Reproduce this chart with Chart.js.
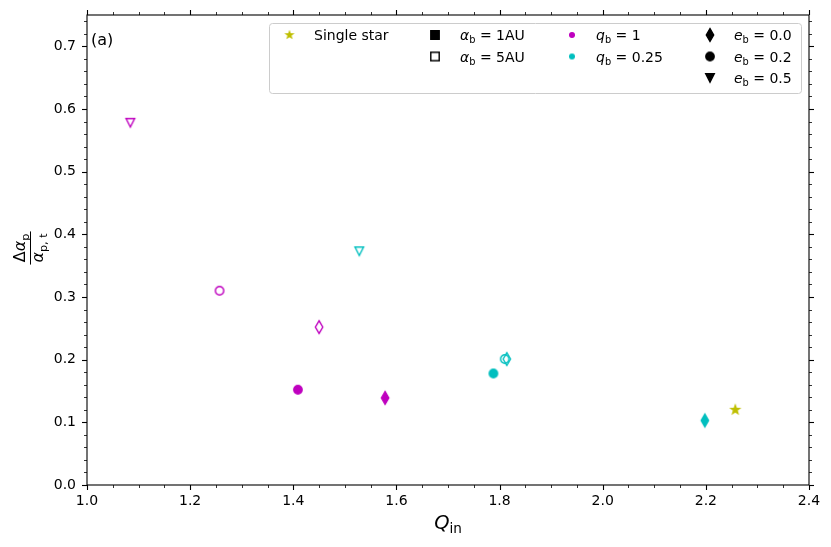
<!DOCTYPE html>
<html lang="en">
<head>
    <meta charset="UTF-8">
    <title>Delta a_p vs Q_in</title>
    <script src="https://cdn.jsdelivr.net/npm/chart.js"></script>
    <style>
        body { margin: 0; background: #fff; }
    </style>
</head>
<body>
    <canvas id="qinChart" width="831" height="547"></canvas>
    <script>
        // tick labels
        const xTicks = [1.0, 1.2, 1.4, 1.6, 1.8, 2.0, 2.2, 2.4];
        const yTicks = [0.0, 0.1, 0.2, 0.3, 0.4, 0.5, 0.6, 0.7];

        // [Q_in, delta a_p / a_p,t]
        const singleStar = [[2.257, 0.120]];
        // q_b = 1
        const q1_1AU_e00 = [[1.578, 0.139]];
        const q1_1AU_e02 = [[1.409, 0.152]];
        const q1_5AU_e00 = [[1.450, 0.252]];
        const q1_5AU_e02 = [[1.257, 0.310]];
        const q1_5AU_e05 = [[1.084, 0.578]];
        // q_b = 0.25
        const q025_1AU_e00 = [[2.198, 0.103]];
        const q025_1AU_e02 = [[1.788, 0.178]];
        const q025_5AU_e00 = [[1.814, 0.201]];
        const q025_5AU_e02 = [[1.810, 0.201]];
        const q025_5AU_e05 = [[1.528, 0.373]];

        const MAG = '#bf00bf', CYA = '#00bfbf', YEL = '#bfbf00';
        const FONT = '"DejaVu Sans", sans-serif';

        // marker images (matplotlib-like shapes)
        function makeMarker(shape, color, filled, scale) {
            scale = scale || 1;
            const c = document.createElement('canvas');
            c.width = 18; c.height = 18;
            const g = c.getContext('2d');
            g.translate(9, 9);
            g.scale(scale, scale);
            g.beginPath();
            if (shape === 'circle') {
                g.arc(0, 0, 4.2, 0, Math.PI * 2);
            } else if (shape === 'tri') {
                g.moveTo(-4.3, -4.2); g.lineTo(4.3, -4.2); g.lineTo(0, 4.3); g.closePath();
            } else if (shape === 'diamond') {
                g.moveTo(0, -6.4); g.lineTo(3.7, 0); g.lineTo(0, 6.4); g.lineTo(-3.7, 0); g.closePath();
            } else if (shape === 'square') {
                g.rect(-4.2, -4.2, 8.4, 8.4);
            } else if (shape === 'star') {
                for (let i = 0; i < 10; i++) {
                    const r = i % 2 ? 1.8 : 4.4;
                    const a = -Math.PI / 2 + i * Math.PI / 5;
                    const px = r * Math.cos(a), py = r * Math.sin(a);
                    if (i === 0) g.moveTo(px, py); else g.lineTo(px, py);
                }
                g.closePath();
            }
            g.lineWidth = 1.4 / scale;
            g.lineJoin = 'miter';
            g.strokeStyle = color;
            if (filled) { g.fillStyle = color; g.fill(); }
            g.stroke();
            return c;
        }

        function ds(label, pts, shape, color, filled) {
            return {
                label: label,
                data: pts.map(p => ({ x: p[0], y: p[1] })),
                pointStyle: makeMarker(shape, color, filled),
                pointRadius: 5,
                pointHoverRadius: 5
            };
        }

        const datasets = [
            ds('single', singleStar, 'star', YEL, true),
            ds('q1 1AU e0', q1_1AU_e00, 'diamond', MAG, true),
            ds('q1 1AU e0.2', q1_1AU_e02, 'circle', MAG, true),
            ds('q1 5AU e0', q1_5AU_e00, 'diamond', MAG, false),
            ds('q1 5AU e0.2', q1_5AU_e02, 'circle', MAG, false),
            ds('q1 5AU e0.5', q1_5AU_e05, 'tri', MAG, false),
            ds('q025 1AU e0', q025_1AU_e00, 'diamond', CYA, true),
            ds('q025 1AU e0.2', q025_1AU_e02, 'circle', CYA, true),
            ds('q025 5AU e0', q025_5AU_e00, 'diamond', CYA, false),
            ds('q025 5AU e0.2', q025_5AU_e02, 'circle', CYA, false),
            ds('q025 5AU e0.5', q025_5AU_e05, 'tri', CYA, false)
        ];

        // draw text with italic / subscript pieces: [text, 'i' | 's' | '']
        function richWidth(ctx, parts, size) {
            let w = 0;
            parts.forEach(p => {
                ctx.font = fontFor(p[1], size);
                w += ctx.measureText(p[0]).width;
            });
            return w;
        }
        function fontFor(kind, size) {
            if (kind === 'i') return 'italic ' + size + 'px ' + FONT;
            if (kind === 's') return (size * 0.7).toFixed(1) + 'px ' + FONT;
            return size + 'px ' + FONT;
        }
        function drawRich(ctx, parts, x, y, size) {
            ctx.textAlign = 'left';
            ctx.textBaseline = 'alphabetic';
            parts.forEach(p => {
                ctx.font = fontFor(p[1], size);
                const dy = p[1] === 's' ? size * 0.22 : 0;
                ctx.fillText(p[0], x, y + dy);
                x += ctx.measureText(p[0]).width;
            });
        }

        // legend layout: 4 columns, 3 rows
        const legendRows = [35, 56.5, 78];
        const legendEntries = [
            { col: 0, row: 0, mk: makeMarker('star', YEL, true, 0.75), text: [['Single star', '']] },
            { col: 1, row: 0, mk: makeMarker('square', '#000', true), text: [['α', 'i'], ['b', 's'], [' = 1AU', '']] },
            { col: 1, row: 1, mk: makeMarker('square', '#000', false), text: [['α', 'i'], ['b', 's'], [' = 5AU', '']] },
            { col: 2, row: 0, mk: makeMarker('circle', MAG, true, 0.55), text: [['q', 'i'], ['b', 's'], [' = 1', '']] },
            { col: 2, row: 1, mk: makeMarker('circle', CYA, true, 0.55), text: [['q', 'i'], ['b', 's'], [' = 0.25', '']] },
            { col: 3, row: 0, mk: makeMarker('diamond', '#000', true), text: [['e', 'i'], ['b', 's'], [' = 0.0', '']] },
            { col: 3, row: 1, mk: makeMarker('circle', '#000', true), text: [['e', 'i'], ['b', 's'], [' = 0.2', '']] },
            { col: 3, row: 2, mk: makeMarker('tri', '#000', true), text: [['e', 'i'], ['b', 's'], [' = 0.5', '']] }
        ];
        const legendMarkX = [289.5, 435, 572, 710];
        const legendTextX = [314, 460, 596, 734];

        const decorPlugin = {
            id: 'decor',
            afterDatasetsDraw(chart) {
                const ctx = chart.ctx;
                ctx.save();
                // legend frame
                const bx = 269.5, by = 23.5, bw = 532, bh = 70;
                ctx.beginPath();
                ctx.roundRect(bx, by, bw, bh, 3);
                ctx.fillStyle = 'rgba(255,255,255,0.8)';
                ctx.fill();
                ctx.strokeStyle = '#cccccc';
                ctx.lineWidth = 1;
                ctx.stroke();
                ctx.fillStyle = '#000';
                legendEntries.forEach(e => {
                    const cy = legendRows[e.row];
                    ctx.drawImage(e.mk, legendMarkX[e.col] - 9, cy - 9);
                    ctx.fillStyle = '#000';
                    drawRich(ctx, e.text, legendTextX[e.col], cy + 5, 14);
                });
                ctx.restore();
            },
            afterDraw(chart) {
                const ctx = chart.ctx;
                const a = chart.chartArea;
                const xs = chart.scales.x, ys = chart.scales.y;
                ctx.save();
                ctx.strokeStyle = '#000';
                // ticks, outward on all four sides
                function tick(x1, y1, x2, y2, w) {
                    ctx.lineWidth = w;
                    ctx.beginPath();
                    ctx.moveTo(x1, y1); ctx.lineTo(x2, y2);
                    ctx.stroke();
                }
                for (let i = 0; i <= 28; i++) {
                    const v = 1 + i * 0.05;
                    const major = i % 4 === 0;
                    const L = major ? 5 : 3, w = major ? 1.1 : 0.8;
                    const px = Math.round(xs.getPixelForValue(v)) + 0.5;
                    tick(px, a.bottom, px, a.bottom + L, w);
                    tick(px, a.top, px, a.top - L, w);
                }
                for (let i = 0; i <= 37; i++) {
                    const v = i * 0.02;
                    const major = i % 5 === 0;
                    const L = major ? 5 : 3, w = major ? 1.1 : 0.8;
                    const py = Math.round(ys.getPixelForValue(v)) + 0.5;
                    tick(a.left, py, a.left - L, py, w);
                    tick(a.right, py, a.right + L, py, w);
                }
                // frame
                ctx.lineWidth = 1.1;
                ctx.strokeRect(a.left, a.top, a.right - a.left, a.bottom - a.top);

                ctx.fillStyle = '#000';
                // panel tag
                ctx.font = '16px ' + FONT;
                ctx.textAlign = 'left';
                ctx.textBaseline = 'alphabetic';
                ctx.fillText('(a)', 91, 45);

                // x title: Q_in
                const xt = [['Q', 'i'], ['in', 's']];
                const xw = richWidth(ctx, xt, 19.5);
                drawRich(ctx, xt, (a.left + a.right) / 2 - xw / 2, 529, 19.5);

                // y title: fraction, rotated
                ctx.translate(30, 248);
                ctx.rotate(-Math.PI / 2);
                const num = [['Δ', ''], ['α', 'i'], ['p', 's']];
                const den = [['α', 'i'], ['p, t', 's']];
                const nw = richWidth(ctx, num, 16), dw = richWidth(ctx, den, 16);
                drawRich(ctx, num, -nw / 2, -5, 16);
                drawRich(ctx, den, -dw / 2, 13, 16);
                const half = Math.max(nw, dw) / 2 + 2;
                ctx.lineWidth = 1;
                ctx.beginPath();
                ctx.moveTo(-half, 0.5); ctx.lineTo(half, 0.5);
                ctx.stroke();
                ctx.restore();
            }
        };

        const ctx = document.getElementById('qinChart').getContext('2d');
        const qinChart = new Chart(ctx, {
            type: 'scatter',
            data: { datasets: datasets },
            plugins: [decorPlugin],
            options: {
                responsive: false,
                animation: false,
                events: [],
                layout: { padding: { left: 0, top: 15, right: 22, bottom: 0 } },
                plugins: {
                    legend: { display: false },
                    tooltip: { enabled: false }
                },
                scales: {
                    x: {
                        type: 'linear',
                        min: 1.0,
                        max: 2.4,
                        afterBuildTicks: s => { s.ticks = xTicks.map(v => ({ value: v })); },
                        afterFit: s => { s.height = 62; },
                        grid: { display: false, drawTicks: true, tickLength: 5 },
                        border: { display: false },
                        ticks: {
                            color: '#000',
                            font: { family: 'DejaVu Sans', size: 14 },
                            padding: 3,
                            maxRotation: 0,
                            autoSkip: false,
                            callback: v => v.toFixed(1)
                        }
                    },
                    y: {
                        type: 'linear',
                        min: 0,
                        max: 0.75,
                        afterBuildTicks: s => { s.ticks = yTicks.map(v => ({ value: v })); },
                        afterFit: s => { s.width = 87; },
                        grid: { display: false, drawTicks: true, tickLength: 5 },
                        border: { display: false },
                        ticks: {
                            color: '#000',
                            font: { family: 'DejaVu Sans', size: 14 },
                            padding: 6,
                            autoSkip: false,
                            callback: v => v.toFixed(1)
                        }
                    }
                }
            }
        });
    </script>
</body>
</html>
